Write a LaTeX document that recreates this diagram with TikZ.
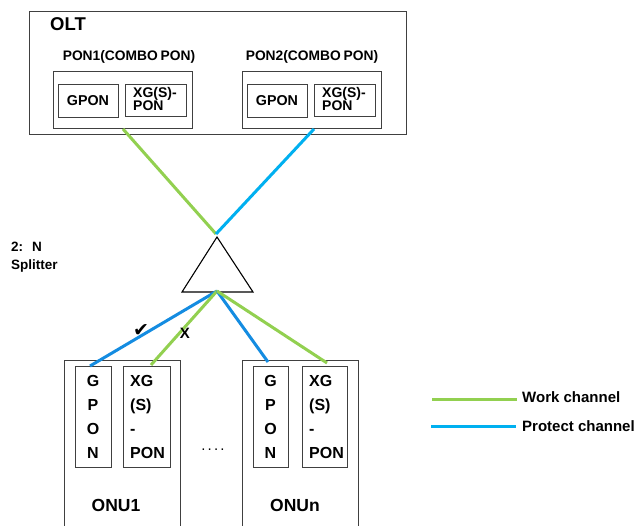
\documentclass[tikz,border=0pt]{standalone}
\usepackage{fontspec}
\setmainfont{Liberation Sans}
\newfontfamily\symfont{DejaVu Sans}
\begin{document}
\begin{tikzpicture}[x=1pt,y=-1pt,
  box/.style={draw=black!75,line width=0.9pt},
  lbl/.style={inner sep=0pt,font=\bfseries},
  work/.style={draw={rgb,255:red,146;green,208;blue,80},line width=3pt},
  prot/.style={draw={rgb,255:red,0;green,176;blue,240},line width=3pt},
  protd/.style={draw={rgb,255:red,20;green,140;blue,225},line width=3pt},
  vtext/.style={lbl,align=center,font=\fontsize{16}{24}\selectfont\bfseries}
]
\useasboundingbox[fill=white] (0,0) rectangle (634,526);

% OLT chassis
\draw[box] (29,11) rectangle (406,134);
\node[lbl,anchor=west,font=\fontsize{18.5}{20}\selectfont\bfseries] (olt) at (50,24) {OLT};

% combo PON cards
\node[lbl,font=\fontsize{13.8}{16}\selectfont\bfseries] (pon1lbl) at (129,57) {PON1(COMBO\kern-1pt\ PON)};
\node[lbl,font=\fontsize{13.8}{16}\selectfont\bfseries] (pon2lbl) at (312,57) {PON2(COMBO\kern-1pt\ PON)};
\draw[box] (53,71) rectangle (192,128);
\draw[box] (242,71) rectangle (381,128);
\draw[box] (58,84) rectangle (118,117);
\draw[box] (125,84) rectangle (186,116);
\draw[box] (247,84) rectangle (307,117);
\draw[box] (314,84) rectangle (375,116);
\node[lbl,font=\fontsize{14.3}{16}\selectfont\bfseries] (g1) at (88,101) {GPON};
\node[lbl,font=\fontsize{14.3}{16}\selectfont\bfseries] (g2) at (277,101) {GPON};
\node[lbl,anchor=north west,align=left,font=\fontsize{14}{13}\selectfont\bfseries] (x1) at (133,87) {XG(S)-\\PON};
\node[lbl,anchor=north west,align=left,font=\fontsize{14}{13}\selectfont\bfseries] (x2) at (322,87) {XG(S)-\\PON};

% port points and splitter
\coordinate (p1) at (123,129);
\coordinate (p2) at (314,129);
\coordinate (top) at (216,234);
\coordinate (apex) at (217,237);
\coordinate (bl) at (182,292);
\coordinate (br) at (253,292);
\coordinate (bot) at (217,291);
\draw[line width=1.1pt,line join=miter] (apex) -- (bl) -- (br) -- cycle;
\node[lbl,anchor=north west,align=left,font=\fontsize{13.5}{18}\selectfont\bfseries] (split) at (11,242) {2:\hspace{9pt}N\\Splitter};

% trunk fibres
\draw[work] (p1) -- (top);
\draw[prot] (p2) -- (top);

% ONU boxes
\draw[box] (64,527) -- (64,360) -- (180,360) -- (180,527);
\draw[box] (242,527) -- (242,360) -- (358,360) -- (358,527);
\draw[box] (75,366) rectangle (111,467);
\draw[box] (123,366) rectangle (170,467);
\draw[box] (253,366) rectangle (288,467);
\draw[box] (302,366) rectangle (347,467);
\node[vtext,anchor=north] (og1) at (93,375) {G\\P\\O\\N};
\node[vtext,anchor=north] (og2) at (270.5,375) {G\\P\\O\\N};
\node[vtext,anchor=north west,align=left] (ox1) at (130,375) {XG\\(S)\\-\\PON};
\node[vtext,anchor=north west,align=left] (ox2) at (309,375) {XG\\(S)\\-\\PON};
\node[lbl,font=\fontsize{17.5}{20}\selectfont\bfseries] (onu1) at (116,505) {ONU1};
\node[lbl,font=\fontsize{17.5}{20}\selectfont\bfseries] (onun) at (295,505) {ONUn};
\node[lbl,anchor=base,font=\fontsize{15}{16}\selectfont] (dots) at (213,450) {.\kern2.2pt.\kern2.2pt.\kern2.2pt.};

% drop fibres
\coordinate (d1) at (90,366);
\coordinate (d2) at (151,365);
\coordinate (d3) at (268,362);
\coordinate (d4) at (327,363);
\draw[protd] (bot) -- (d1);
\draw[work] (bot) -- (d2);
\draw[protd] (bot) -- (d3);
\draw[work] (bot) -- (d4);
\node[lbl,font=\symfont\fontsize{19}{20}\selectfont] (ok) at (141,331) {✔};
\node[lbl,font=\fontsize{15}{16}\selectfont\bfseries] (no) at (185,333) {X};

% legend
\coordinate (lw1) at (432,399);
\coordinate (lw2) at (517,399);
\coordinate (lp1) at (431,426);
\coordinate (lp2) at (516,426);
\draw[work] (lw1) -- (lw2);
\draw[prot] (lp1) -- (lp2);
\node[lbl,anchor=west,font=\fontsize{15}{16}\selectfont\bfseries] (lwt) at (522,397) {Work channel};
\node[lbl,anchor=west,font=\fontsize{15}{16}\selectfont\bfseries] (lpt) at (522,426) {Protect channel};
\end{tikzpicture}
\end{document}
